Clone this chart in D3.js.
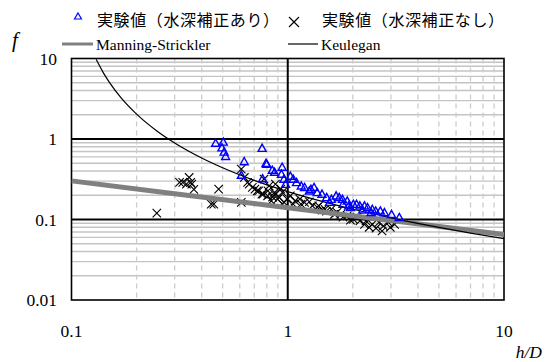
<!DOCTYPE html>
<html>
<head>
<meta charset="utf-8">
<script src="https://cdn.jsdelivr.net/npm/d3@7"></script>
<style>
  html, body { margin: 0; padding: 0; background: #fff; }
  svg { display: block; }
  .num { font-family: "Liberation Serif", "Times New Roman", serif; fill: #000; }
  .jp { font-family: "Noto Sans CJK JP", sans-serif; fill: #000; }
</style>
</head>
<body>
<svg id="chart" width="552" height="362"></svg>
<script>
// Measured friction factor f against relative depth h/D
// Blue triangles: depth-corrected values; crosses: uncorrected values.
const corrH = [0.464, 0.503, 0.496, 0.508, 0.516, 0.761, 0.629, 0.793, 0.610, 0.765,
               0.800, 0.848, 0.869, 0.942, 0.935, 0.960, 0.977, 1.028, 1.098, 1.155,
               1.196, 1.258, 1.323, 1.368, 1.513, 1.591, 1.674, 1.730, 1.790, 1.884,
               1.914, 2.010, 2.080, 2.155, 2.265, 2.340, 2.460, 2.550, 2.680, 2.800,
               3.020, 3.280, 1.060, 1.280, 1.440, 1.560, 1.800, 1.950, 2.430, 2.220];
const corrF = [0.890, 0.920, 0.780, 0.690, 0.610, 0.770, 0.525, 0.500, 0.356, 0.322,
               0.489, 0.411, 0.388, 0.448, 0.367, 0.318, 0.275, 0.346, 0.289, 0.262,
               0.251, 0.227, 0.251, 0.217, 0.188, 0.179, 0.197, 0.188, 0.179, 0.170,
               0.148, 0.155, 0.155, 0.148, 0.148, 0.141, 0.134, 0.128, 0.128, 0.122,
               0.116, 0.106, 0.318, 0.238, 0.207, 0.164, 0.155, 0.142, 0.123, 0.132];

const rawH = [0.248, 0.316, 0.350, 0.340, 0.356, 0.327, 0.360, 0.368, 0.479, 0.443,
              0.455, 0.610, 0.610, 0.630, 0.652, 0.663, 0.686, 0.705, 0.722, 0.734,
              0.759, 0.770, 0.820, 0.807, 0.810, 0.840, 0.869, 0.869, 0.898, 0.913,
              0.929, 0.944, 0.944, 0.993, 1.028, 1.081, 1.137, 1.196, 1.258, 1.300,
              1.390, 1.487, 1.590, 1.645, 1.760, 1.884, 2.010, 2.155, 2.300, 2.460,
              2.640, 2.770, 2.920, 3.120, 2.730, 2.380, 2.560, 2.265, 1.950, 1.800,
              1.510, 1.368, 1.152, 1.060, 0.960, 0.851, 0.877, 0.777, 1.440, 1.690,
              2.090, 2.980];
const rawF = [0.120, 0.289, 0.333, 0.275, 0.289, 0.289, 0.275, 0.237, 0.238, 0.155,
              0.155, 0.163, 0.423, 0.333, 0.289, 0.275, 0.251, 0.238, 0.227, 0.227,
              0.207, 0.207, 0.262, 0.197, 0.227, 0.170, 0.217, 0.207, 0.179, 0.188,
              0.238, 0.155, 0.217, 0.179, 0.197, 0.170, 0.179, 0.163, 0.166, 0.148,
              0.148, 0.134, 0.134, 0.116, 0.116, 0.111, 0.101, 0.096, 0.096, 0.087,
              0.092, 0.083, 0.092, 0.087, 0.072, 0.080, 0.078, 0.087, 0.098, 0.107,
              0.127, 0.142, 0.155, 0.155, 0.164, 0.190, 0.275, 0.318, 0.131, 0.123,
              0.107, 0.080];

// Reference curves
const manningH = [0.1, 0.3, 1, 3, 10];
const manningF = [0.302, 0.209, 0.140, 0.0971, 0.065];
const keuleganH = [0.13, 0.14, 0.15, 0.17, 0.2, 0.25, 0.3, 0.4, 0.5, 0.7, 1, 1.5, 2, 3, 5, 7, 10];
const keuleganF = [9.77, 6.73, 5.02, 3.22, 2.04, 1.242, 0.893, 0.581, 0.439, 0.306, 0.222,
                   0.163, 0.134, 0.105, 0.0797, 0.0678, 0.058];

// Axis ticks and labels
const xMajor = [0.1, 1, 10];
const xTickLabels = ["0.1", "1", "10"];
const yMajor = [0.01, 0.1, 1, 10];
const yTickLabels = ["0.01", "0.1", "1", "10"];
const xMinor = [0.2, 0.3, 0.4, 0.5, 0.6, 0.7, 0.8, 0.9, 2, 3, 4, 5, 6, 7, 8, 9];
const yMinor = [0.02, 0.03, 0.04, 0.05, 0.06, 0.07, 0.08, 0.09,
                0.2, 0.3, 0.4, 0.5, 0.6, 0.7, 0.8, 0.9,
                2, 3, 4, 5, 6, 7, 8, 9];

const legendLabels = ["実験値（水深補正あり）", "実験値（水深補正なし）", "Manning-Strickler", "Keulegan"];

const svg = d3.select("#chart");
const plot = { left: 71.5, right: 504, top: 58.5, bottom: 300 };

const x = d3.scaleLog().domain([0.1, 10]).range([plot.left, plot.right]);
const y = d3.scaleLog().domain([0.01, 10]).range([plot.bottom, plot.top]);

// Minor gridlines
svg.append("g").selectAll("line").data(yMinor).join("line")
  .attr("x1", plot.left).attr("x2", plot.right)
  .attr("y1", d => y(d)).attr("y2", d => y(d))
  .attr("stroke", "#c4c4c4").attr("stroke-width", 1.4);

svg.append("g").selectAll("line").data(xMinor).join("line")
  .attr("x1", d => x(d)).attr("x2", d => x(d))
  .attr("y1", plot.top).attr("y2", plot.bottom)
  .attr("stroke", "#cccccc").attr("stroke-width", 1.3)
  .attr("stroke-dasharray", "5,4");

// Major gridlines (decades inside the frame)
svg.append("g").selectAll("line").data([1]).join("line")
  .attr("x1", d => x(d)).attr("x2", d => x(d))
  .attr("y1", plot.top).attr("y2", plot.bottom)
  .attr("stroke", "#000").attr("stroke-width", 2);
svg.append("g").selectAll("line").data([0.1, 1]).join("line")
  .attr("x1", plot.left).attr("x2", plot.right)
  .attr("y1", d => y(d)).attr("y2", d => y(d))
  .attr("stroke", "#000").attr("stroke-width", 2);

// Frame
svg.append("rect")
  .attr("x", plot.left).attr("y", plot.top)
  .attr("width", plot.right - plot.left).attr("height", plot.bottom - plot.top)
  .attr("fill", "none").attr("stroke", "#000").attr("stroke-width", 1.6);

svg.append("defs").append("clipPath").attr("id", "plotclip")
  .append("rect").attr("x", plot.left).attr("y", plot.top)
  .attr("width", plot.right - plot.left).attr("height", plot.bottom - plot.top);

const g = svg.append("g").attr("clip-path", "url(#plotclip)");

// Uncorrected data: crosses
const cs = 4.2;
g.append("g").selectAll("path").data(d3.zip(rawH, rawF)).join("path")
  .attr("d", d => {
    const px = x(d[0]), py = y(d[1]);
    return `M${px - cs},${py - cs}L${px + cs},${py + cs}M${px - cs},${py + cs}L${px + cs},${py - cs}`;
  })
  .attr("stroke", "#000").attr("stroke-width", 1.1).attr("fill", "none");

// Manning-Strickler line
const line = d3.line().x(d => x(d[0])).y(d => y(d[1]));
g.append("path").datum(d3.zip(manningH, manningF))
  .attr("d", line).attr("fill", "none")
  .attr("stroke", "#808080").attr("stroke-width", 5);

// Keulegan curve
g.append("path").datum(d3.zip(keuleganH, keuleganF))
  .attr("d", d3.line().curve(d3.curveMonotoneX).x(d => x(d[0])).y(d => y(d[1])))
  .attr("fill", "none").attr("stroke", "#000").attr("stroke-width", 1.2);

// Depth-corrected data: open triangles
const tr = 4;
g.append("g").selectAll("path").data(d3.zip(corrH, corrF)).join("path")
  .attr("d", d => {
    const px = x(d[0]), py = y(d[1]);
    return `M${px},${py - tr}L${px + tr},${py + tr * 0.8}L${px - tr},${py + tr * 0.8}Z`;
  })
  .attr("stroke", "#0000ff").attr("stroke-width", 1.4).attr("fill", "none");

// Axis tick labels
svg.append("g").selectAll("text").data(d3.zip(xMajor, xTickLabels)).join("text")
  .attr("class", "num")
  .attr("x", d => x(d[0])).attr("y", 337)
  .attr("text-anchor", "middle").attr("font-size", 17.5)
  .text(d => d[1]);

svg.append("g").selectAll("text").data(d3.zip(yMajor, yTickLabels)).join("text")
  .attr("class", "num")
  .attr("x", 57).attr("y", d => y(d[0]) + 6)
  .attr("text-anchor", "end").attr("font-size", 17.5)
  .text(d => d[1]);

// Axis titles
svg.append("text").attr("class", "num")
  .attr("x", 542).attr("y", 358).attr("text-anchor", "end")
  .attr("font-size", 17.5).attr("font-style", "italic").text("h/D");
svg.append("text").attr("class", "num")
  .attr("x", 12).attr("y", 47)
  .attr("font-size", 21).attr("font-style", "italic").text("f");

// Legend
const lg = svg.append("g");
lg.append("path")
  .attr("d", "M78,13L81.5,19L74.5,19Z")
  .attr("stroke", "#0000ff").attr("stroke-width", 1.2).attr("fill", "none");
lg.append("text").attr("class", "jp").attr("x", 97).attr("y", 26)
  .attr("font-size", 16).attr("letter-spacing", 0.6).text(legendLabels[0]);
lg.append("path")
  .attr("d", "M289,17L299,27M289,27L299,17")
  .attr("stroke", "#000").attr("stroke-width", 1.2);
lg.append("text").attr("class", "jp").attr("x", 322).attr("y", 26)
  .attr("font-size", 16).attr("letter-spacing", 0.6).text(legendLabels[1]);

lg.append("line").attr("x1", 62).attr("x2", 93).attr("y1", 44).attr("y2", 44)
  .attr("stroke", "#808080").attr("stroke-width", 3);
lg.append("text").attr("class", "num").attr("x", 96).attr("y", 49.5)
  .attr("font-size", 15.5).text(legendLabels[2]);
lg.append("line").attr("x1", 288).attr("x2", 318).attr("y1", 44).attr("y2", 44)
  .attr("stroke", "#000").attr("stroke-width", 1.2);
lg.append("text").attr("class", "num").attr("x", 321).attr("y", 49.5)
  .attr("font-size", 15.5).text(legendLabels[3]);
</script>
</body>
</html>
